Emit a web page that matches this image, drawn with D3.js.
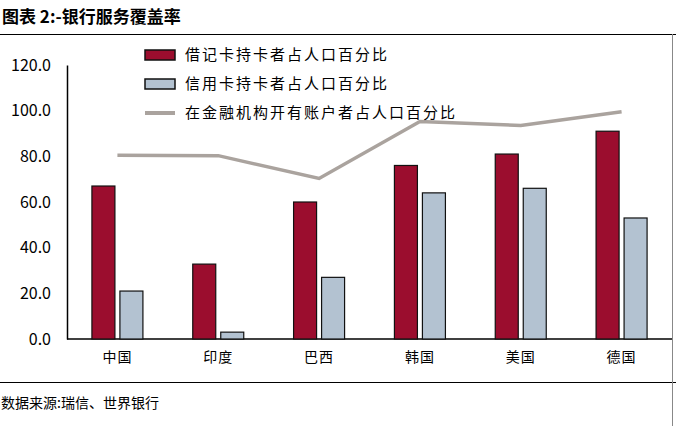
<!DOCTYPE html>
<html><head><meta charset="utf-8">
<script src="https://cdn.jsdelivr.net/npm/d3@7"></script>
<style>body{margin:0;background:#fff}text{font-family:"Noto Sans CJK SC",sans-serif}</style>
</head><body><div id="chart"></div>
<script>
var categories = ["中国", "印度", "巴西", "韩国", "美国", "德国"];
var debitPct = [67, 32.8, 60, 76, 81, 91];
var creditPct = [21, 3, 27, 64, 66, 53];
var accountPct = [80.5, 80.3, 70.3, 95.3, 93.5, 99.5];
var seriesNames = ["借记卡持卡者占人口百分比", "信用卡持卡者占人口百分比", "在金融机构开有账户者占人口百分比"];
var yTicks = [0, 20, 40, 60, 80, 100, 120];

var W = 676, H = 426;
var svg = d3.select("#chart").append("svg").attr("width", W).attr("height", H);

// frame
svg.append("text").attr("x", 2).attr("y", 23).attr("font-size", 17).attr("font-weight", "bold")
    .text("图表 2:-银行服务覆盖率");
svg.append("line").attr("x1", 0).attr("x2", W).attr("y1", 34.5).attr("y2", 34.5).attr("stroke", "#000");
svg.append("line").attr("x1", 0).attr("x2", W).attr("y1", 382.5).attr("y2", 382.5).attr("stroke", "#000");
svg.append("line").attr("x1", 672.5).attr("x2", 672.5).attr("y1", 34).attr("y2", 426).attr("stroke", "#888");
svg.append("text").attr("x", 1).attr("y", 408).attr("font-size", 14).text("数据来源:瑞信、世界银行");

var x = d3.scaleBand().domain(categories).range([67, 672]);
var y = d3.scaleLinear().domain([0, 120]).range([339, 65]);

var g = svg.append("g");
g.append("g").attr("transform", "translate(67,0)")
    .call(d3.axisLeft(y).tickValues(yTicks).tickFormat(d3.format(".1f")).tickSize(0).tickPadding(16))
    .call(a => a.select(".domain").attr("stroke", "#000").attr("stroke-width", 1.5))
    .call(a => a.selectAll("text").attr("font-family", "Liberation Sans, Arial").attr("font-size", 16).attr("fill", "#000"));
g.append("line").attr("x1", 67).attr("x2", 672).attr("y1", y(0)).attr("y2", y(0)).attr("stroke", "#000").attr("stroke-width", 1.5);
g.append("g").selectAll("text").data(categories).enter().append("text")
    .attr("x", d => x(d) + x.bandwidth() / 2).attr("y", 362).attr("text-anchor", "middle")
    .attr("font-size", 14).attr("letter-spacing", 1).text(d => d);

var bw = 23;
g.append("g").selectAll("rect").data(debitPct).enter().append("rect")
    .attr("x", (d, i) => x(categories[i]) + x.bandwidth() / 2 - bw - 2.5)
    .attr("y", d => y(d)).attr("width", bw).attr("height", d => y(0) - y(d))
    .attr("fill", "#9b0d2e").attr("stroke", "#111").attr("stroke-width", 1.2);
g.append("g").selectAll("rect").data(creditPct).enter().append("rect")
    .attr("x", (d, i) => x(categories[i]) + x.bandwidth() / 2 + 2.5)
    .attr("y", d => y(d)).attr("width", bw).attr("height", d => y(0) - y(d))
    .attr("fill", "#b3c2d1").attr("stroke", "#111").attr("stroke-width", 1.2);

var line = d3.line().x((d, i) => x(categories[i]) + x.bandwidth() / 2).y(d => y(d));
g.append("path").datum(accountPct).attr("d", line).attr("fill", "none")
    .attr("stroke", "#aaa39e").attr("stroke-width", 3.5);

// legend
var leg = svg.append("g").attr("transform", "translate(145,0)");
[0, 1, 2].forEach(function(i) {
  var yy = 55 + i * 29;
  if (i < 2) {
    leg.append("rect").attr("x", 0).attr("y", yy - 5).attr("width", 30).attr("height", 10)
        .attr("fill", i == 0 ? "#9b0d2e" : "#b3c2d1").attr("stroke", "#111").attr("stroke-width", 1.5);
  } else {
    leg.append("line").attr("x1", 0).attr("x2", 30).attr("y1", yy).attr("y2", yy)
        .attr("stroke", "#aaa39e").attr("stroke-width", 4);
  }
  leg.append("text").attr("x", 40).attr("y", yy + 5).attr("font-size", 15).attr("letter-spacing", 2).text(seriesNames[i]);
});
</script></body></html>
